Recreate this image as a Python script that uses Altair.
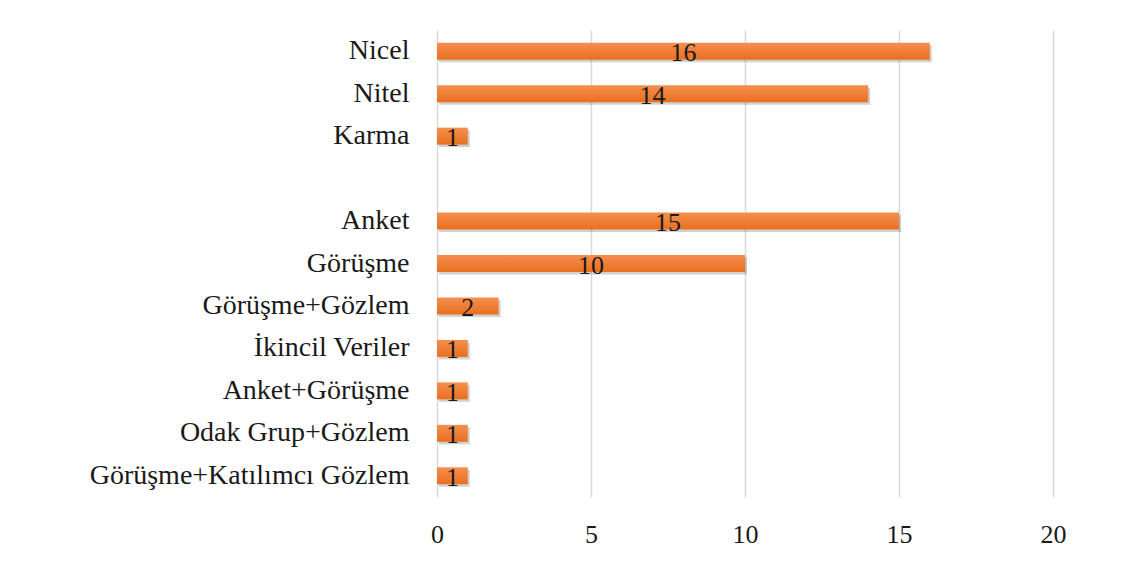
import altair as alt
import pandas as pd

categories = ["Nicel", "Nitel", "Karma", " ", "Anket", "Görüşme", "Görüşme+Gözlem",
              "İkincil Veriler", "Anket+Görüşme", "Odak Grup+Gözlem", "Görüşme+Katılımcı Gözlem"]
values = [16, 14, 1, None, 15, 10, 2, 1, 1, 1, 1]
x_ticks = [0, 5, 10, 15, 20]

df = pd.DataFrame({"cat": categories, "val": values})
df["label"] = df["val"].apply(lambda v: "" if pd.isna(v) else str(int(v)))
df["half"] = df["val"] / 2

y_enc = alt.Y("cat:N", sort=categories, title=None,
              scale=alt.Scale(paddingInner=0.6, paddingOuter=0.3),
              axis=alt.Axis(labelFont="Liberation Serif", labelFontSize=28, labelColor="#1a1a1a",
                            labelPadding=28, labelLimit=500, ticks=False, domain=False, grid=False))
x_enc = alt.X("val:Q", title=None, scale=alt.Scale(domain=[0, 20], nice=False),
              axis=alt.Axis(values=x_ticks, labelFont="Liberation Serif", labelFontSize=26,
                            labelColor="#1a1a1a", labelPadding=24, labelFlush=False,
                            ticks=False, domain=False,
                            grid=True, gridColor="#d9d9d9", gridWidth=1.5))

base = alt.Chart(df)

shadow = base.mark_bar(color="#000000", opacity=0.18, xOffset=2, yOffset=2.5).encode(x=x_enc, y=y_enc)

bars = base.mark_bar(
    color=alt.Gradient(gradient="linear", x1=0, y1=0, x2=0, y2=1,
                       stops=[alt.GradientStop(offset=0, color="#f58f50"),
                              alt.GradientStop(offset=1, color="#e8701f")])
).encode(x=x_enc, y=y_enc)

text = base.mark_text(font="Liberation Serif", fontSize=26, color="#1a1a1a",
                      baseline="middle", dy=2).encode(
    x=alt.X("half:Q"), y=alt.Y("cat:N", sort=categories), text="label:N")

chart = alt.layer(shadow, bars, text).properties(
    width=616, height=467,
    background="white",
    autosize=alt.AutoSizeParams(type="none"),
    padding={"left": 429, "top": 22, "right": 50, "bottom": 50},
).configure_view(strokeWidth=0, stroke="transparent")

chart.save("out.html", embed_options={"renderer": "svg", "actions": False})
